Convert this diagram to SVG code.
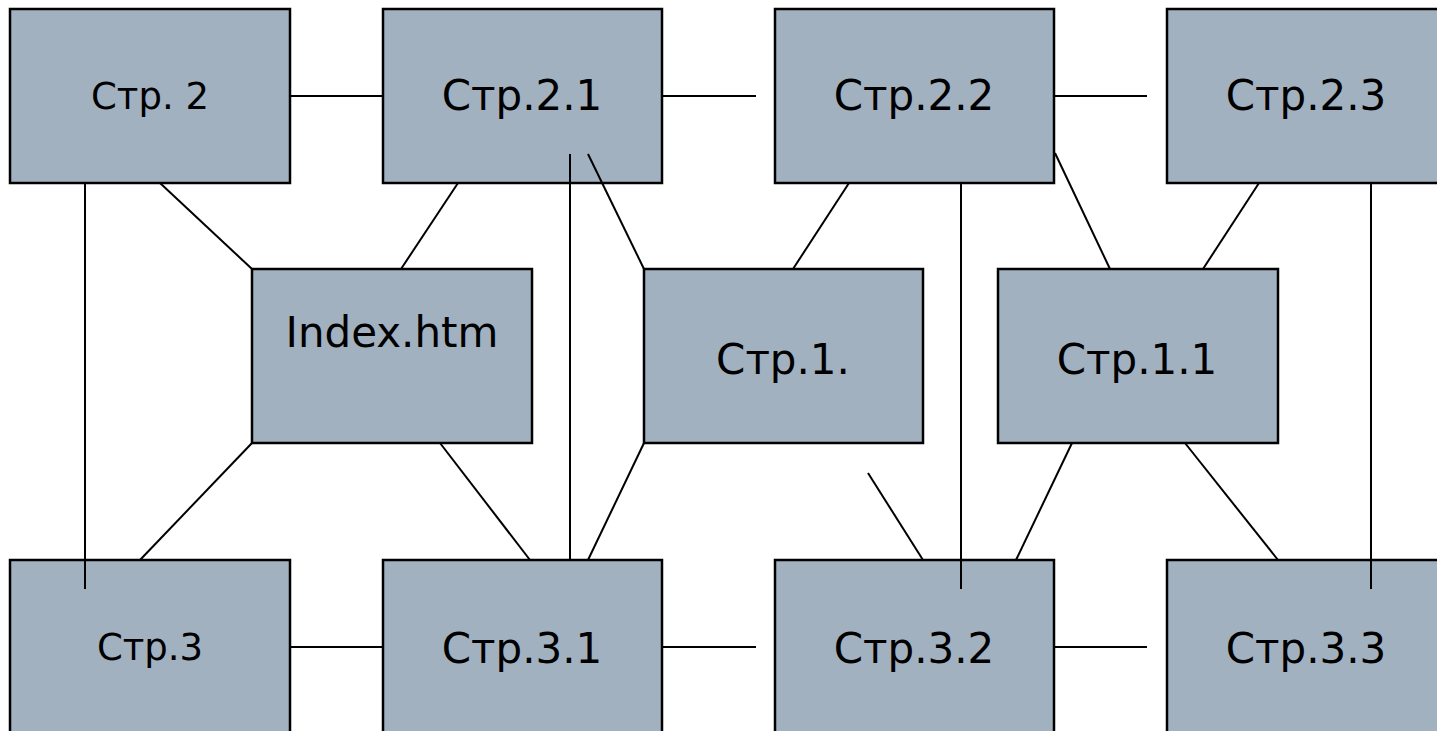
<svg xmlns="http://www.w3.org/2000/svg" width="1437" height="731" viewBox="0 0 1437 731">
  <style>
    .box { fill: #A2B1C0; stroke: #000; stroke-width: 2.5; }
    .lbl { font-family: "DejaVu Sans", Verdana, sans-serif; font-size: 42px; fill: #000; text-anchor: middle; }
    .sm { font-size: 37px; }
    .conn line { stroke: #000; stroke-width: 2; }
  </style>
  <rect width="1437" height="731" fill="#fff"/>

  <!-- top row -->
  <g id="p2"><rect class="box" x="10" y="9" width="280" height="174"/><text class="lbl sm" x="150" y="109">Стр. 2</text></g>
  <g id="p21"><rect class="box" x="383" y="9" width="279" height="174"/><text class="lbl" x="522" y="110">Стр.2.1</text></g>
  <g id="p22"><rect class="box" x="775" y="9" width="279" height="174"/><text class="lbl" x="914" y="110">Стр.2.2</text></g>
  <g id="p23"><rect class="box" x="1167" y="9" width="290" height="174"/><text class="lbl" x="1306" y="110">Стр.2.3</text></g>

  <!-- middle row -->
  <g id="index"><rect class="box" x="252" y="269" width="280" height="174"/><text class="lbl" x="392" y="347">Index.htm</text></g>
  <g id="p1"><rect class="box" x="644" y="269" width="279" height="174"/><text class="lbl" x="783" y="374">Стр.1.</text></g>
  <g id="p11"><rect class="box" x="998" y="269" width="280" height="174"/><text class="lbl" x="1137" y="374">Стр.1.1</text></g>

  <!-- bottom row -->
  <g id="p3"><rect class="box" x="10" y="560" width="280" height="190"/><text class="lbl sm" x="150" y="660">Стр.3</text></g>
  <g id="p31"><rect class="box" x="383" y="560" width="279" height="190"/><text class="lbl" x="522" y="663">Стр.3.1</text></g>
  <g id="p32"><rect class="box" x="775" y="560" width="279" height="190"/><text class="lbl" x="914" y="663">Стр.3.2</text></g>
  <g id="p33"><rect class="box" x="1167" y="560" width="290" height="190"/><text class="lbl" x="1306" y="663">Стр.3.3</text></g>

  <!-- links -->
  <g id="connectors" class="conn">
    <line x1="290" y1="96" x2="383" y2="96"/>
    <line x1="662" y1="96" x2="756" y2="96"/>
    <line x1="1054" y1="96" x2="1147" y2="96"/>
    <line x1="290" y1="647" x2="383" y2="647"/>
    <line x1="662" y1="647" x2="756" y2="647"/>
    <line x1="1054" y1="647" x2="1147" y2="647"/>

    <line x1="85" y1="183" x2="85" y2="589"/>
    <line x1="570" y1="154" x2="570" y2="560"/>
    <line x1="961" y1="183" x2="961" y2="589"/>
    <line x1="1371" y1="183" x2="1371" y2="589"/>

    <line x1="160" y1="183" x2="252" y2="269"/>
    <line x1="458" y1="183" x2="401" y2="269"/>
    <line x1="252" y1="443" x2="140" y2="560"/>
    <line x1="440" y1="443" x2="530" y2="560"/>
    <line x1="588" y1="154" x2="644" y2="269"/>
    <line x1="644" y1="443" x2="588" y2="560"/>
    <line x1="849" y1="183" x2="793" y2="269"/>
    <line x1="868" y1="473" x2="923" y2="560"/>
    <line x1="1055" y1="153" x2="1110" y2="269"/>
    <line x1="1259" y1="183" x2="1203" y2="269"/>
    <line x1="1072" y1="443" x2="1016" y2="560"/>
    <line x1="1185" y1="443" x2="1278" y2="560"/>
  </g>
</svg>
